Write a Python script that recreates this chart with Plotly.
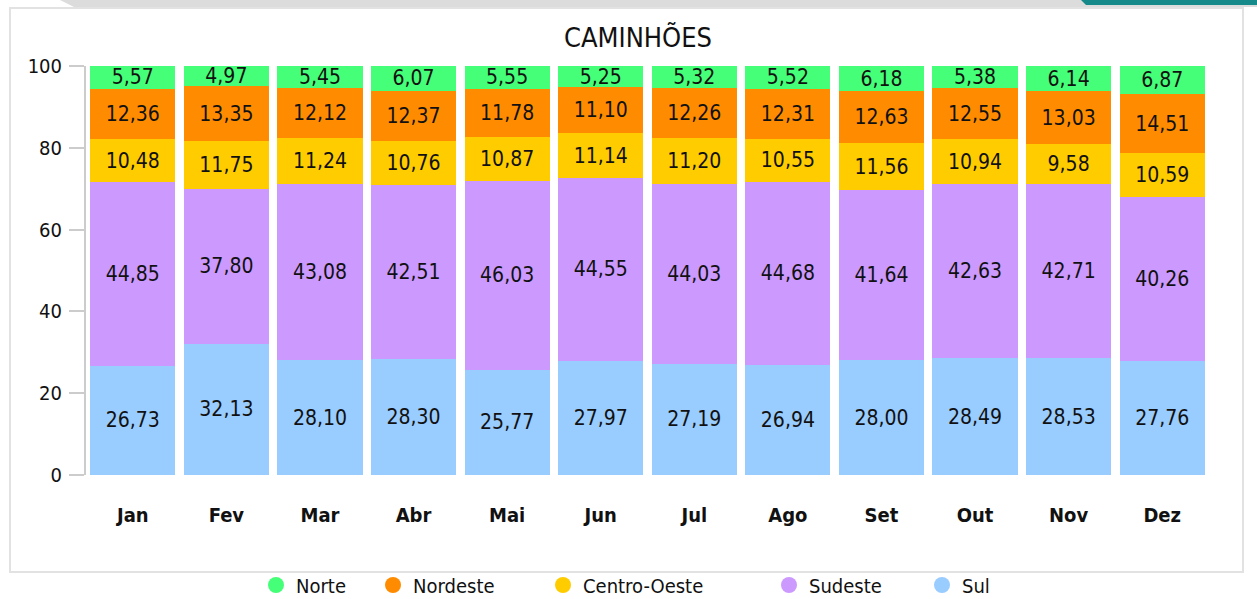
import plotly.graph_objects as go

meses = ["Jan", "Fev", "Mar", "Abr", "Mai", "Jun", "Jul", "Ago", "Set", "Out", "Nov", "Dez"]

sul = [26.73, 32.13, 28.10, 28.30, 25.77, 27.97, 27.19, 26.94, 28.00, 28.49, 28.53, 27.76]
sudeste = [44.85, 37.80, 43.08, 42.51, 46.03, 44.55, 44.03, 44.68, 41.64, 42.63, 42.71, 40.26]
centro_oeste = [10.48, 11.75, 11.24, 10.76, 10.87, 11.14, 11.20, 10.55, 11.56, 10.94, 9.58, 10.59]
nordeste = [12.36, 13.35, 12.12, 12.37, 11.78, 11.10, 12.26, 12.31, 12.63, 12.55, 13.03, 14.51]
norte = [5.57, 4.97, 5.45, 6.07, 5.55, 5.25, 5.32, 5.52, 6.18, 5.38, 6.14, 6.87]

y_ticks = [0, 20, 40, 60, 80, 100]

W, H = 1257, 599
FONT = "DejaVu Sans Condensed, DejaVu Sans"


def px_x(x):
    return x / W


def px_y(y):
    return 1 - y / H


def fmt(v):
    return f"{v:.2f}".replace(".", ",")


series = [
    ("Sul", sul, "#99ccff"),
    ("Sudeste", sudeste, "#cc99ff"),
    ("Centro-Oeste", centro_oeste, "#ffcc00"),
    ("Nordeste", nordeste, "#ff8c00"),
    ("Norte", norte, "#44ff77"),
]

fig = go.Figure()
for name, vals, color in series:
    fig.add_trace(go.Bar(
        x=meses, y=vals, name=name,
        marker=dict(color=color, line=dict(width=0)),
        text=[fmt(v) for v in vals],
        textposition="inside", insidetextanchor="middle",
        constraintext="none", textangle=0,
        textfont=dict(family=FONT, size=21, color="#111111"),
        showlegend=False, hoverinfo="skip",
    ))

# legend entries with round markers, each in its own legend box
legend_left = {"Norte": 256, "Nordeste": 373, "Centro-Oeste": 543, "Sudeste": 769, "Sul": 922}
legend_cfg = {}
for i, (name, vals, color) in enumerate(reversed(series)):
    key = "legend" if i == 0 else f"legend{i + 1}"
    fig.add_trace(go.Scatter(
        x=[None], y=[None], mode="markers", name=name,
        marker=dict(symbol="circle", size=16, color=color),
        showlegend=True, legend=key,
    ))
    legend_cfg[key] = dict(
        orientation="h", x=px_x(legend_left[name]), xanchor="left",
        y=px_y(585), yanchor="middle",
        font=dict(family=FONT, size=20, color="#111111"),
        bgcolor="rgba(0,0,0,0)", itemsizing="trace",
        itemwidth=30, tracegroupgap=0,
    )

shapes = [
    # panel frame
    dict(type="rect", xref="paper", yref="paper",
         x0=px_x(10), x1=px_x(1243), y0=px_y(572), y1=px_y(8),
         line=dict(color="#e2e2e2", width=2), fillcolor="rgba(0,0,0,0)", layer="below"),
    # top band
    dict(type="path", xref="paper", yref="paper",
         path=f"M {px_x(60)} {px_y(0)} L {px_x(1257)} {px_y(0)} L {px_x(1257)} {px_y(7)} L {px_x(74)} {px_y(7)} Z",
         line=dict(width=0), fillcolor="#dcdcdc", layer="below"),
    dict(type="path", xref="paper", yref="paper",
         path=f"M {px_x(1081)} {px_y(0)} L {px_x(1257)} {px_y(0)} L {px_x(1257)} {px_y(5)} L {px_x(1086)} {px_y(5)} Z",
         line=dict(width=0), fillcolor="#16898a", layer="below"),
]

fig.update_layout(
    width=W, height=H,
    barmode="stack", bargap=0.09,
    margin=dict(l=0, r=0, t=0, b=0, autoexpand=False),
    paper_bgcolor="white", plot_bgcolor="white",
    font=dict(family=FONT, color="#111111"),
    title=dict(text="CAMINHÕES", x=px_x(638), xanchor="center", y=px_y(38), yanchor="middle",
               font=dict(family=FONT, size=27, color="#111111")),
    xaxis=dict(
        domain=[px_x(86), px_x(1209)], range=[-0.5, 11.5],
        showgrid=False, zeroline=False, showline=False, ticks="",
        tickfont=dict(family=FONT, size=20, color="#111111", weight="bold"),
        ticklabelstandoff=26, fixedrange=True,
    ),
    yaxis=dict(
        domain=[px_y(475), px_y(66)], range=[0, 100],
        tickvals=y_ticks, showgrid=False, zeroline=False,
        showline=True, linecolor="#cccccc", linewidth=2,
        ticks="outside", ticklen=15, tickcolor="#cccccc", tickwidth=2,
        tickfont=dict(family=FONT, size=20, color="#111111"),
        ticklabelstandoff=3, fixedrange=True,
    ),
    shapes=shapes,
    **legend_cfg,
)

fig.write_html("out.html")
